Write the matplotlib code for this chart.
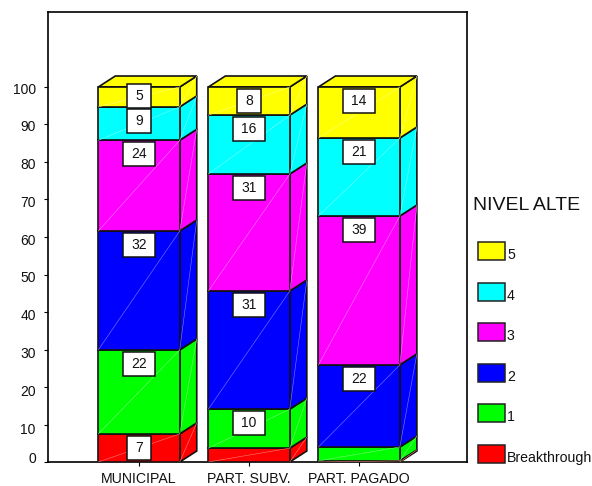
"""Stacked 3D-look percent bars, NIVEL ALTE by school type."""

import matplotlib
matplotlib.use("Agg")
import matplotlib.pyplot as plt
from matplotlib.patches import Rectangle
from matplotlib.transforms import ScaledTranslation

plt.rcParams["font.family"] = ["Liberation Sans", "DejaVu Sans"]

categories = ["MUNICIPAL", "PART. SUBV.", "PART. PAGADO"]
levels = ["Breakthrough", "1", "2", "3", "4", "5"]
colors = ["#ff0000", "#00ff00", "#0000ff", "#ff00ff", "#00ffff", "#ffff00"]

municipal = [7.5, 22.4, 31.7, 24.2, 8.9, 5.3]
subv = [3.7, 10.4, 31.5, 31.2, 15.7, 7.5]
pagado = [0.3, 3.7, 21.9, 39.7, 20.8, 13.6]

municipal_labels = [7, 22, 32, 24, 9, 5]
subv_labels = [None, 10, 31, 31, 16, 8]
pagado_labels = [None, None, 22, 39, 21, 14]

W, H = 592, 486
fig = plt.figure(figsize=(W / 100, H / 100), dpi=100)
ax = fig.add_axes([48 / W, 1 - 462 / H, (467 - 48) / W, 450 / H])
ax.set_xlim(-0.827, 2.98)
ax.set_ylim(0, 120)

bar_w = 0.74
dx = 17 / 110
dy = 11 / 3.75
box_h = 24 / 3.75


def lighter(c):
    r, g, b = matplotlib.colors.to_rgb(c)
    return (0.5 + r / 2, 0.5 + g / 2, 0.5 + b / 2)


for i, (vals, labs) in enumerate(zip([municipal, subv, pagado],
                                     [municipal_labels, subv_labels, pagado_labels])):
    x0, x1 = i - bar_w / 2, i + bar_w / 2
    base = 0
    for val, lab, col in zip(vals, labs, colors):
        top = base + val
        ax.fill([x0, x1, x1, x0], [base, base, top, top], fc=col, ec="#111111", lw=1.2, zorder=3)
        ax.fill([x1, x1 + dx, x1 + dx, x1], [base, base + dy, top + dy, top],
                fc=col, ec="#111111", lw=1.2, zorder=2)
        # the faint diagonal seams of the old renderer
        ax.plot([x0, x1], [base, top], color=lighter(col), lw=0.4, zorder=3.5)
        ax.plot([x1, x1 + dx], [base, top + dy], color=lighter(col), lw=0.4, zorder=3.5)
        if lab is not None:
            ypos = top - 2.4 if lab == 5 else top - 3.7
            box_w = (24 if lab < 10 else 32) / 110
            ax.add_patch(Rectangle((i - box_w / 2, ypos - box_h / 2), box_w, box_h, fc="white",
                                   ec="#111111", lw=1.1, zorder=4))
            ax.text(i, ypos, str(lab), ha="center", va="center", fontsize=10, color="#111111", zorder=5)
        base = top
    ax.fill([x0, x1, x1 + dx, x0 + dx], [base, base, base + dy, base + dy],
            fc=colors[-1], ec="#111111", lw=1.2, zorder=2)

ax.set_xticks(range(3))
ax.set_xticklabels(categories, fontsize=10.2, color="#111111")
ax.set_yticks(range(0, 101, 10))
ax.tick_params(axis="x", length=3, pad=4.5, color="black")
ax.tick_params(axis="y", length=3, pad=5.8, labelsize=10, labelcolor="#111111")
# tick labels sit a little under their ticks, but the zero is lifted off the baseline
for tick, v in zip(ax.yaxis.get_major_ticks(), range(0, 101, 10)):
    shift = -5 if v == 0 else 1 + (100 - v) * 0.03
    tick.label1.set_transform(tick.label1.get_transform()
                              + ScaledTranslation(0, -shift / 100, fig.dpi_scale_trans))
for s in ax.spines.values():
    s.set_linewidth(1.2)

fig.text(473 / W, 1 - 206 / H, "NIVEL ALTE", fontsize=14, va="center", color="#111111")
legend_tops = [445, 404, 364, 323, 283, 242]
for lab, col, ytop in zip(levels, colors, legend_tops):
    fig.add_artist(Rectangle((478 / W, 1 - (ytop + 18) / H), 27 / W, 18 / H, fc=col, ec="#222222",
                             lw=1.1, transform=fig.transFigure))
    fig.text(507 / W, 1 - (ytop + 13) / H, lab, fontsize=10.2, va="center", color="#111111")

fig.savefig("out.png", dpi=100)
